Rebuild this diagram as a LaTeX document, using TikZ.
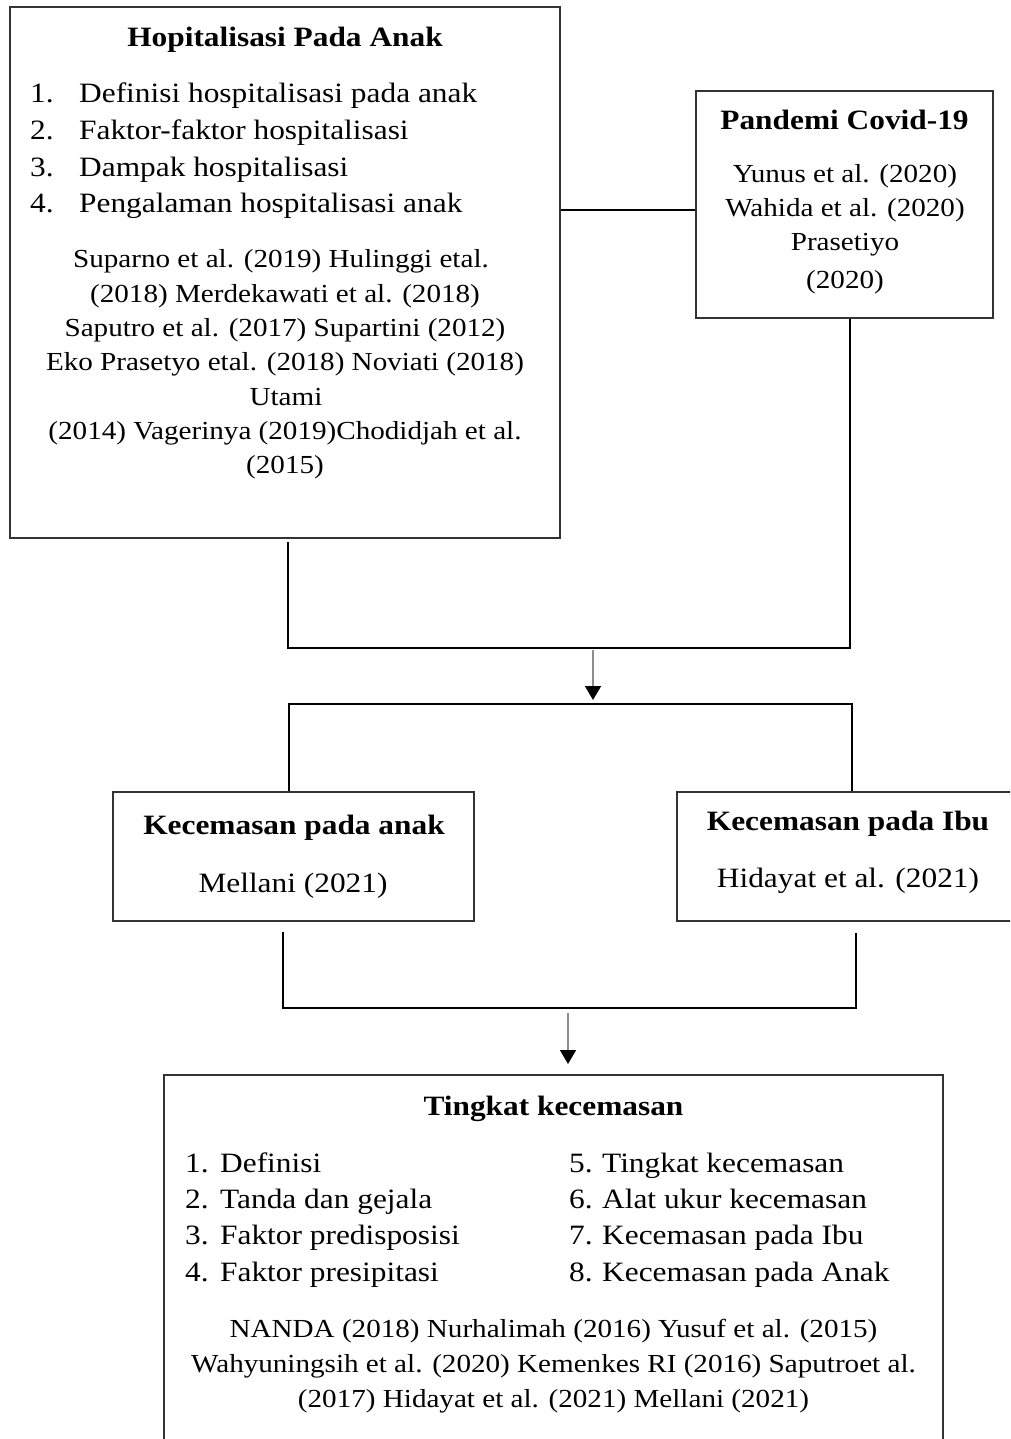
\documentclass[tikz,border=0pt]{standalone}
\usepackage{fontspec}
\setmainfont[FakeStretch=1.12]{Liberation Serif}
\usetikzlibrary{arrows.meta}

\begin{document}
\begin{tikzpicture}[x=1pt, y=-1pt,
  box/.style={draw=black!80, line width=2pt, inner sep=0pt},
  head/.style={font=\fontsize{28}{37}\selectfont\bfseries, anchor=base, inner sep=0pt},
  item/.style={font=\fontsize{28}{37}\selectfont, anchor=base west, inner sep=0pt},
  cite/.style={font=\fontsize{26}{34}\selectfont, anchor=base, inner sep=0pt},
  link/.style={line width=2.2pt, black},
  flow/.style={line width=1.6pt, black!45, -{Triangle[length=14pt, width=16pt, color=black]}}]
\useasboundingbox (0,0) rectangle (1010,1439);
\clip (0,0) rectangle (1010,1439);
% Hospitalisasi
\node[box, minimum width=550pt, minimum height=531pt] (hosp) at (285,272.5){};
\node[head] (hospTitle) at (285,47){Hopitalisasi Pada Anak};
\node[item] (hospN1) at (30,103){1.};
\node[item] (hospT1) at (79,103){Definisi hospitalisasi pada anak};
\node[item] (hospN2) at (30,140){2.};
\node[item] (hospT2) at (79,140){Faktor-faktor hospitalisasi};
\node[item] (hospN3) at (30,177){3.};
\node[item] (hospT3) at (79,177){Dampak hospitalisasi};
\node[item] (hospN4) at (30,213){4.};
\node[item] (hospT4) at (79,213){Pengalaman hospitalisasi anak};
\node[cite] (hospC1) at (281,268){Suparno et al. (2019) Hulinggi etal.};
\node[cite] (hospC2) at (285,302){(2018) Merdekawati et al. (2018)};
\node[cite] (hospC3) at (285,336.5){Saputro et al. (2017) Supartini (2012)};
\node[cite] (hospC4) at (285,370.5){Eko Prasetyo etal. (2018) Noviati (2018)};
\node[cite] (hospC5) at (286,405){Utami};
\node[cite] (hospC6) at (285,439){(2014) Vagerinya (2019)Chodidjah et al.};
\node[cite] (hospC7) at (285,473){(2015)};
% Covid
\node[box, minimum width=297pt, minimum height=227pt] (covid) at (844.5,204.5){};
\node[head] (covidTitle) at (844.5,130){Pandemi Covid-19};
\node[cite] (covidC1) at (845,183){Yunus et al. (2020)};
\node[cite] (covidC2) at (845,217){Wahida et al. (2020)};
\node[cite] (covidC3) at (845,251){Prasetiyo};
\node[cite] (covidC4) at (845,288){(2020)};
\draw[link] ([yshift=-5.5pt]covid.west) -- ([yshift=-5.5pt]covid.west -| hosp.east);
% Kecemasan
\node[box, minimum width=361pt, minimum height=129pt] (anak) at (293.5,856.5){};
\node[head] (anakTitle) at (294,834){Kecemasan pada anak};
\node[cite, font=\fontsize{28}{37}\selectfont] (anakC1) at (293,892){Mellani (2021)};
\node[box, minimum width=342pt, minimum height=129pt] (ibu) at (848,856.5){};
\node[head] (ibuTitle) at (848,830){Kecemasan pada Ibu};
\node[cite, font=\fontsize{28}{37}\selectfont] (ibuC1) at (848,887){Hidayat et al. (2021)};
% Tingkat kecemasan
\node[box, minimum width=779pt, minimum height=385pt] (tingkat) at (553.5,1267.5){};
\node[head] (tingkatTitle) at (553.5,1115){Tingkat kecemasan};
\node[item] (tingkatN1) at (185,1172){1.};
\node[item] (tingkatT1) at (220,1172){Definisi};
\node[item] (tingkatN2) at (185,1208){2.};
\node[item] (tingkatT2) at (220,1208){Tanda dan gejala};
\node[item] (tingkatN3) at (185,1244.5){3.};
\node[item] (tingkatT3) at (220,1244.5){Faktor predisposisi};
\node[item] (tingkatN4) at (185,1281){4.};
\node[item] (tingkatT4) at (220,1281){Faktor presipitasi};
\node[item] (tingkatN5) at (569,1172){5.};
\node[item] (tingkatT5) at (602,1172){Tingkat kecemasan};
\node[item] (tingkatN6) at (569,1208){6.};
\node[item] (tingkatT6) at (602,1208){Alat ukur kecemasan};
\node[item] (tingkatN7) at (569,1244.5){7.};
\node[item] (tingkatT7) at (602,1244.5){Kecemasan pada Ibu};
\node[item] (tingkatN8) at (569,1281){8.};
\node[item] (tingkatT8) at (602,1281){Kecemasan pada Anak};
\node[cite] (tingkatC1) at (553.5,1337){NANDA (2018) Nurhalimah (2016) Yusuf et al. (2015)};
\node[cite] (tingkatC2) at (553.5,1372){Wahyuningsih et al. (2020) Kemenkes RI (2016) Saputroet al.};
\node[cite] (tingkatC3) at (553.5,1407){(2017) Hidayat et al. (2021) Mellani (2021)};
% connectors
\coordinate (join1) at (593,648);
\coordinate (join2) at (593,704);
\coordinate (join3) at (568,1008);
\draw[link, shorten <=3pt] ([xshift=3pt]hosp.south) |- (join1) -| ([xshift=5.5pt]covid.south);
\draw[flow, shorten <=2pt, shorten >=4pt] (join1) -- (join2);
\draw[link] ([xshift=-4.5pt]anak.north) |- (join2) -| ([xshift=4pt]ibu.north);
\draw[link, shorten <=10pt, shorten >=11pt] ([xshift=-10.5pt]anak.south) |- (join3) -| ([xshift=8pt]ibu.south);
\draw[flow, shorten <=5pt, shorten >=10pt] (join3) -- (join3 |- tingkat.north);
\end{tikzpicture}
\end{document}
